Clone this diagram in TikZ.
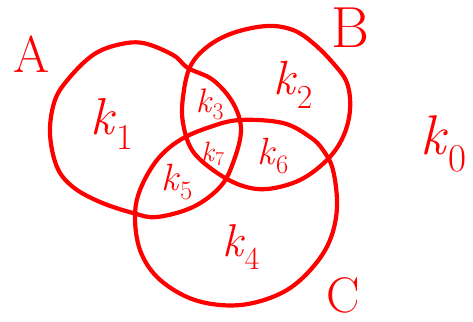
\documentclass[tikz,border=0pt]{standalone}
\usepackage{amsmath, amssymb}
\usepackage{tikz}

\newcommand{\vsz}[1]{\fontsize{#1}{#1}\selectfont}
\newcommand{\kreg}[1]{\textit{k}\textsubscript{#1}}

\begin{document}
\begin{tikzpicture}[x=1pt, y=-1pt, every node/.style={text=red, inner sep=0pt},
    setline/.style={red, line width=4.2pt, line join=round}]
  \useasboundingbox (0,0) rectangle (473,321);
  % the three sets, traced by hand
  \draw[setline] plot[smooth cycle, tension=0.6] coordinates {(143,43) (173,55) (188,68) (213,80)
    (233,103) (241,130) (233,163) (220,187) (193,207) (157,217) (133,213) (100,202)
    (73,187) (57,167) (50,133) (55,100) (70,77) (93,55) (117,45)};
  \draw[setline] plot[smooth cycle, tension=0.6] coordinates {(267,26) (293,30) (313,43) (333,63)
    (347,83) (350,110) (343,137) (327,160) (300,180) (267,189) (240,185) (213,170)
    (192,150) (183,123) (183,97) (190,67) (207,47) (233,33)};
  \draw[setline] plot[smooth cycle, tension=0.6] coordinates {(240,120) (283,123) (310,137) (323,150)
    (333,170) (337,207) (330,240) (313,267) (287,290) (253,303) (220,305) (187,297)
    (157,277) (140,250) (135,217) (140,190) (157,160) (180,140) (210,127)};
  % set names
  \node[font=\vsz{52}, anchor=base] (setA) at (32,72) {A};
  \node[font=\vsz{58}, anchor=base] (setB) at (350,48) {B};
  \node[font=\vsz{50}, anchor=base] (setC) at (343,312) {C};
  % regions
  \node[font=\vsz{52}] (kone) at (112,124) {\kreg{1}};
  \node[font=\vsz{48}] (ktwo) at (293,85) {\kreg{2}};
  \node[font=\vsz{34}] (kthree) at (210,104) {\kreg{3}};
  \node[font=\vsz{28}] (kseven) at (213,154) {\kreg{7}};
  \node[font=\vsz{38}] (ksix) at (273,156) {\kreg{6}};
  \node[font=\vsz{38}] (kfive) at (177,182) {\kreg{5}};
  \node[font=\vsz{46}] (kfour) at (241,247) {\kreg{4}};
  \node[font=\vsz{56}] (kzero) at (444,144) {\kreg{0}};
\end{tikzpicture}
\end{document}
